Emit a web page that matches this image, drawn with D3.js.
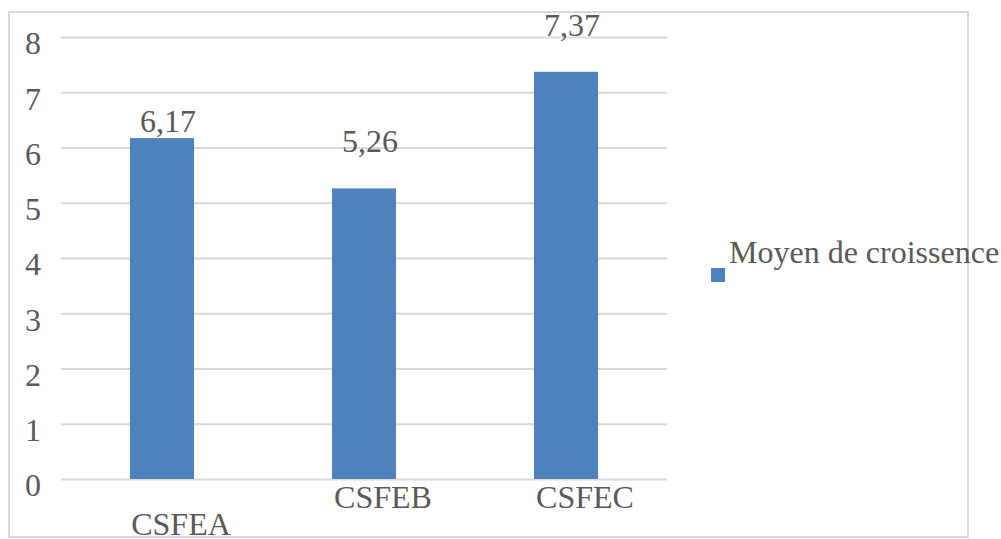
<!DOCTYPE html>
<html>
<head>
<meta charset="utf-8">
<script src="https://cdn.jsdelivr.net/npm/d3@7"></script>
<style>
  html, body { margin: 0; padding: 0; background: #fff; }
  svg { display: block; }
  svg text { font-family: "Liberation Serif", "Times New Roman", Times, serif; fill: #595959; }
</style>
</head>
<body>
<svg id="chart" width="1001" height="539"></svg>
<script>
// Growth averages per strain
const categories = ["CSFEA", "CSFEB", "CSFEC"];
const values = [6.17, 5.26, 7.37];
const valueLabels = ["6,17", "5,26", "7,37"];
const yTicks = [0, 1, 2, 3, 4, 5, 6, 7, 8];
const seriesName = "Moyen de croissence";

const svg = d3.select("#chart");
const barColor = "#4f81bd";
const gridColor = "#d9d9d9";
const fontSize = 32;
const serif = "'Liberation Serif', 'Times New Roman', Times, serif";

// chart frame
svg.append("rect")
  .attr("x", 9).attr("y", 12)
  .attr("width", 959).attr("height", 525)
  .attr("fill", "#fff")
  .attr("stroke", gridColor)
  .attr("stroke-width", 2);

const plot = { left: 61, right: 667, top: 37, bottom: 479 };

const x = d3.scaleBand()
  .domain(categories)
  .range([plot.left, plot.right])
  .padding(0);

const y = d3.scaleLinear()
  .domain([0, 8])
  .range([plot.bottom, plot.top]);

// value axis with gridlines
const yAxis = d3.axisLeft(y)
  .tickValues(yTicks)
  .tickFormat(d3.format("d"))
  .tickSize(-(plot.right - plot.left))
  .tickPadding(20);

const gy = svg.append("g")
  .attr("transform", `translate(${plot.left},0)`)
  .call(yAxis)
  .attr("font-family", serif)
  .attr("font-size", fontSize);
gy.select(".domain").remove();
gy.selectAll(".tick line")
  .attr("stroke", gridColor)
  .attr("stroke-width", 2);
gy.selectAll(".tick text")
  .attr("dy", "0.53em")
  .style("font-family", serif)
  .attr("fill", "#595959");

// bars
const barWidth = x.bandwidth() * 0.317;
const barX = d => x(d) + (x.bandwidth() - barWidth) / 2;

svg.append("g")
  .selectAll("rect")
  .data(categories)
  .join("rect")
  .attr("x", d => barX(d))
  .attr("y", (d, i) => y(values[i]))
  .attr("width", barWidth)
  .attr("height", (d, i) => y(0) - y(values[i]))
  .attr("fill", barColor);

const textLayer = svg.append("g")
  .style("font-family", serif)
  .attr("font-size", fontSize);

// value labels above bars
const labelLift = [6, 36, 36];
textLayer.append("g")
  .selectAll("text")
  .data(categories)
  .join("text")
  .attr("x", d => x(d) + x.bandwidth() / 2 + 6)
  .attr("y", (d, i) => y(values[i]) - labelLift[i])
  .attr("text-anchor", "middle")
  .text((d, i) => valueLabels[i]);

// category labels
const catDrop = [56, 29, 29];
textLayer.append("g")
  .selectAll("text")
  .data(categories)
  .join("text")
  .attr("x", d => x(d) + x.bandwidth() / 2 + 19)
  .attr("y", (d, i) => y(0) + catDrop[i])
  .attr("text-anchor", "middle")
  .text(d => d);

// legend
const legend = svg.append("g");
legend.append("rect")
  .attr("x", 711).attr("y", 268)
  .attr("width", 14).attr("height", 14)
  .attr("fill", barColor);
legend.append("text")
  .attr("x", 729).attr("y", 263)
  .attr("font-size", fontSize)
  .style("font-family", serif)
  .text(seriesName);
</script>
</body>
</html>
